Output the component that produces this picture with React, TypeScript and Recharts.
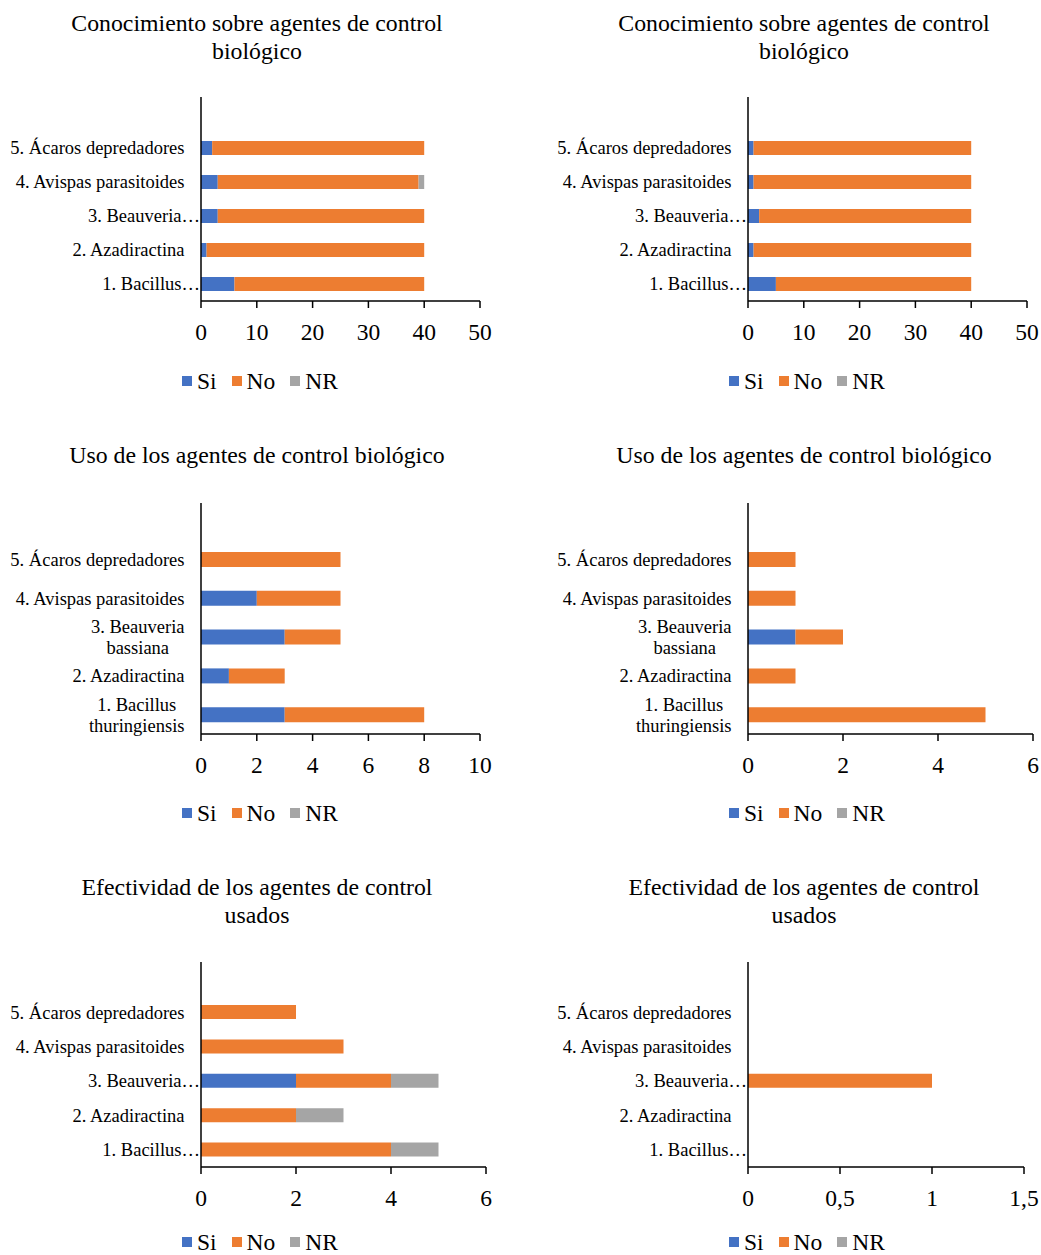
import React from "react";
import { BarChart, Bar, XAxis, YAxis } from "recharts";

const FONT = '"Liberation Serif", "Times New Roman", serif';

// categories, bottom to top
const categories = [
  "1. Bacillus thuringiensis",
  "2. Azadiractina",
  "3. Beauveria bassiana",
  "4. Avispas parasitoides",
  "5. Ácaros depredadores",
];
const clippedLabels = [
  "1. Bacillus…",
  "2. Azadiractina",
  "3. Beauveria…",
  "4. Avispas parasitoides",
  "5. Ácaros depredadores",
];
const wrappedLabels = [
  ["1. Bacillus", "thuringiensis"],
  ["2. Azadiractina"],
  ["3. Beauveria", "bassiana"],
  ["4. Avispas parasitoides"],
  ["5. Ácaros depredadores"],
];

const seriesKeys = ["si", "no", "nr"];
const seriesNames = ["Si", "No", "NR"];
const seriesColors = ["#4472C4", "#ED7D31", "#A5A5A5"];

// Conocimiento
const conocSiA = [6, 1, 3, 3, 2];
const conocNoA = [34, 39, 37, 36, 38];
const conocNrA = [0, 0, 0, 1, 0];
const conocSiB = [5, 1, 2, 1, 1];
const conocNoB = [35, 39, 38, 39, 39];
const conocNrB = [0, 0, 0, 0, 0];

// Uso
const usoSiA = [3, 1, 3, 2, 0];
const usoNoA = [5, 2, 2, 3, 5];
const usoNrA = [0, 0, 0, 0, 0];
const usoSiB = [0, 0, 1, 0, 0];
const usoNoB = [5, 1, 1, 1, 1];
const usoNrB = [0, 0, 0, 0, 0];

// Efectividad
const efecSiA = [0, 0, 2, 0, 0];
const efecNoA = [4, 2, 2, 3, 2];
const efecNrA = [1, 1, 1, 0, 0];
const efecSiB = [0, 0, 0, 0, 0];
const efecNoB = [0, 0, 1, 0, 0];
const efecNrB = [0, 0, 0, 0, 0];

const titleConoc = ["Conocimiento sobre agentes de control", "biológico"];
const titleUso = ["Uso de los agentes de control biológico"];
const titleEfec = ["Efectividad de los agentes de control", "usados"];

const ticks50 = [0, 10, 20, 30, 40, 50];
const ticks10 = [0, 2, 4, 6, 8, 10];
const ticks6 = [0, 2, 4, 6];
const ticks15 = [0, 0.5, 1, 1.5];

type Panel = {
  title: string[];
  si: number[];
  no: number[];
  nr: number[];
  ticks: number[];
  wrap: boolean;
  col: number;
  row: number;
  plotTop: number;
  plotBottom: number;
  padTop: number;
  plotWidth: number;
  barSize: number;
};

const panels: Panel[] = [
  { title: titleConoc, si: conocSiA, no: conocNoA, nr: conocNrA, ticks: ticks50, wrap: false, col: 0, row: 0, plotTop: 97, plotBottom: 301, padTop: 34, plotWidth: 279, barSize: 14 },
  { title: titleConoc, si: conocSiB, no: conocNoB, nr: conocNrB, ticks: ticks50, wrap: false, col: 1, row: 0, plotTop: 97, plotBottom: 301, padTop: 34, plotWidth: 279, barSize: 14 },
  { title: titleUso, si: usoSiA, no: usoNoA, nr: usoNrA, ticks: ticks10, wrap: true, col: 0, row: 1, plotTop: 71, plotBottom: 302, padTop: 37, plotWidth: 279, barSize: 15 },
  { title: titleUso, si: usoSiB, no: usoNoB, nr: usoNrB, ticks: ticks6, wrap: true, col: 1, row: 1, plotTop: 71, plotBottom: 302, padTop: 37, plotWidth: 285, barSize: 15 },
  { title: titleEfec, si: efecSiA, no: efecNoA, nr: efecNrA, ticks: ticks6, wrap: false, col: 0, row: 2, plotTop: 98, plotBottom: 303, padTop: 33, plotWidth: 285, barSize: 14 },
  { title: titleEfec, si: efecSiB, no: efecNoB, nr: efecNrB, ticks: ticks15, wrap: false, col: 1, row: 2, plotTop: 98, plotBottom: 303, padTop: 33, plotWidth: 276, barSize: 14 },
];

const CHART_W = 494;
const CHART_H = 360;
const AXIS_LEFT = 201;
const LABEL_SIZE = 18.5;
const PAGE_H = 1255;

let measureCtx: CanvasRenderingContext2D | null = null;
function textWidth(s: string, size: number) {
  if (!measureCtx) measureCtx = document.createElement("canvas").getContext("2d");
  if (!measureCtx) return s.length * size * 0.45;
  measureCtx.font = `${size}px "Liberation Serif"`;
  return measureCtx.measureText(s).width;
}

function CategoryTick(props: any) {
  const { x, y, payload, wrap } = props;
  const i = categories.indexOf(payload.value);
  const lines: string[] = wrap ? wrappedLabels[i] : [clippedLabels[i]];
  const clipped = !wrap && lines[0].endsWith("…");
  const right = clipped ? x - 1 : x - 16.5;
  const style = { fontFamily: FONT, fontSize: LABEL_SIZE, fill: "#000" };
  if (lines.length === 1) {
    return (
      <text x={right} y={y} dy="0.35em" textAnchor="end" style={style}>
        {lines[0]}
      </text>
    );
  }
  const w = Math.max(...lines.map((l) => textWidth(l, LABEL_SIZE)));
  const cx = right - w / 2;
  return (
    <text textAnchor="middle" style={style}>
      {lines.map((l, k) => (
        <tspan key={k} x={cx} y={y + (k - (lines.length - 1) / 2) * 21} dy="0.35em">
          {l}
        </tspan>
      ))}
    </text>
  );
}

function PanelChart({ p }: { p: Panel }) {
  const rows = categories.map((name, i) => ({
    name,
    si: p.si[i],
    no: p.no[i],
    nr: p.nr[i],
  }));
  const max = p.ticks[p.ticks.length - 1];
  const axisStroke = { stroke: "#000", strokeWidth: 1.5 };
  const top = p.row * 432;
  // keep the legend row inside the page for the last row of panels
  const legendTop = Math.min(368, PAGE_H - top - 26);

  return (
    <div
      style={{
        position: "absolute",
        left: p.col * 547,
        top,
        width: CHART_W,
        height: 432,
      }}
    >
      <div
        style={{
          position: "absolute",
          left: 0,
          top: 9,
          width: 514,
          textAlign: "center",
          fontFamily: FONT,
          fontSize: 23.8,
          lineHeight: "28px",
          color: "#000",
        }}
      >
        {p.title.map((t, k) => (
          <div key={k}>{t}</div>
        ))}
      </div>

      <div style={{ position: "absolute", left: 0, top: 0 }}>
        <BarChart
          layout="vertical"
          width={CHART_W}
          height={CHART_H}
          data={rows}
          margin={{
            top: p.plotTop,
            right: CHART_W - AXIS_LEFT - p.plotWidth,
            bottom: 0,
            left: 0,
          }}
        >
          <XAxis
            type="number"
            domain={[0, max]}
            ticks={p.ticks}
            interval={0}
            height={CHART_H - p.plotBottom}
            axisLine={axisStroke}
            tickLine={axisStroke}
            tickSize={7}
            tickMargin={15}
            tick={{ fill: "#000", fontSize: 23.5, fontFamily: FONT }}
            tickFormatter={(v: number) => String(v).replace(".", ",")}
          />
          <YAxis
            type="category"
            dataKey="name"
            reversed
            width={AXIS_LEFT}
            padding={{ top: p.padTop, bottom: 0 }}
            axisLine={axisStroke}
            tickLine={false}
            tickSize={0}
            tickMargin={0}
            interval={0}
            tick={(tp: any) => <CategoryTick {...tp} wrap={p.wrap} />}
          />
          {seriesKeys.map((k, i) => (
            <Bar
              key={k}
              dataKey={k}
              name={seriesNames[i]}
              stackId="total"
              fill={seriesColors[i]}
              barSize={p.barSize}
              isAnimationActive={false}
            />
          ))}
        </BarChart>
      </div>

      <div
        style={{
          position: "absolute",
          left: 0,
          top: legendTop,
          width: 520,
          height: 26,
          lineHeight: "26px",
          display: "flex",
          justifyContent: "center",
          alignItems: "center",
          fontFamily: FONT,
          fontSize: 23.5,
          color: "#000",
        }}
      >
        {seriesNames.map((n, i) => (
          <div key={n} style={{ display: "flex", alignItems: "center", marginRight: i < 2 ? 15 : 0 }}>
            <span
              style={{
                display: "inline-block",
                width: 10,
                height: 10,
                background: seriesColors[i],
                marginRight: 5,
              }}
            />
            <span>{n}</span>
          </div>
        ))}
      </div>
    </div>
  );
}

export default function App() {
  return (
    <div
      style={{
        position: "absolute",
        left: 0,
        top: 0,
        width: 1041,
        height: PAGE_H,
        overflow: "hidden",
        background: "#fff",
      }}
    >
      {panels.map((p, i) => (
        <PanelChart key={i} p={p} />
      ))}
    </div>
  );
}
